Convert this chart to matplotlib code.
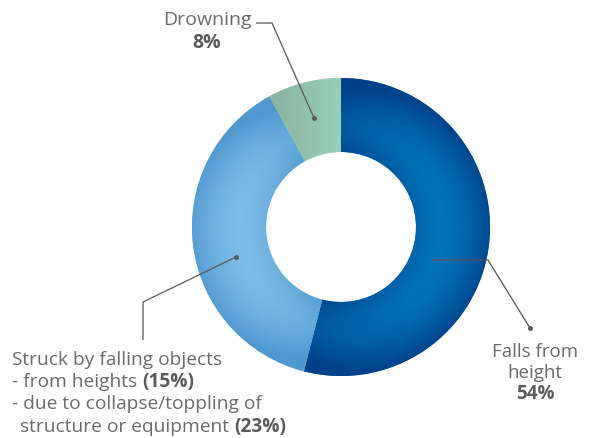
import numpy as np
import matplotlib
matplotlib.use("Agg")
import matplotlib.pyplot as plt

# data
labels = ["Falls from height", "Struck by falling objects", "Drowning"]
shares = [54, 38, 8]
struck_parts = [15, 23]
light_cols = ["#0073b8", "#7dbde7", "#97cfb6"]
dark_cols = ["#00428a", "#4f99d0", "#8cb2a3"]

W, H = 590, 439
cx, cy = 341, H - 228
r_out, r_in = 149, 75
grey = "#6a6a6a"
bold_grey = "#5a5a5a"

plt.rcParams["font.family"] = ["Open Sans", "DejaVu Sans"]

fig = plt.figure(figsize=(W / 100, H / 100), dpi=100)
ax = fig.add_axes([0, 0, 1, 1])

wedges, _ = ax.pie(shares, startangle=90, counterclock=False, center=(cx, cy),
                   radius=r_out, colors=light_cols,
                   wedgeprops=dict(width=r_out - r_in, linewidth=0))
ax.set_xlim(0, W)
ax.set_ylim(0, H)
ax.set_aspect("equal")
ax.axis("off")

# gradient fill clipped to each wedge
n = 500
xs = np.linspace(cx - r_out, cx + r_out, n)
ys = np.linspace(cy - r_out, cy + r_out, n)
X, Y = np.meshgrid(xs, ys)
R = np.hypot(X - cx, Y - cy)
TH = np.degrees(np.arctan2(Y - cy, X - cx))


def hex2rgb(h):
    return np.array([int(h[i:i + 2], 16) / 255 for i in (1, 3, 5)])


for i, w in enumerate(wedges):
    a0, a1 = w.theta1, w.theta2
    mid = (a0 + a1) / 2
    half = (a1 - a0) / 2
    ang = np.abs(((TH - mid + 180) % 360) - 180) / half
    rn = (R - r_in) / (r_out - r_in)
    lo, hi = hex2rgb(light_cols[i]), hex2rgb(dark_cols[i])
    if i == 2:
        s = 1 - np.clip((X - (cx - 70)) / 70, 0, 1)
    else:
        rad = np.abs(rn - 0.35) / 0.65
        s = np.clip(0.85 * rad ** 1.6 + 0.55 * np.clip(ang, 0, 1) ** 2.5, 0, 1)
    img = lo[None, None, :] * (1 - s[..., None]) + hi[None, None, :] * s[..., None]
    im = ax.imshow(img, extent=(xs[0], xs[-1], ys[0], ys[-1]), origin="lower",
                   interpolation="bilinear", zorder=w.get_zorder() + 0.1)
    im.set_clip_path(w)
ax.set_xlim(0, W)
ax.set_ylim(0, H)

# leader lines (pixel coords of the reference, y flipped)
lw = 0.9
lc = "#555555"


def leader(pts):
    px = [p[0] for p in pts]
    py = [H - p[1] for p in pts]
    ax.plot(px, py, color=lc, lw=lw, zorder=5, solid_capstyle="butt")
    ax.plot(px[-1], py[-1], "o", ms=2.5, color=lc, zorder=6)


leader([(256, 24), (272, 24), (314, 119)])
leader([(432, 261), (488, 261), (530, 329)])
leader([(143, 341), (143, 303), (236, 258)])

fs = 13.5
ax.text(207, H - 20, "Drowning", ha="center", va="center", fontsize=14, color=grey)
ax.text(207, H - 43, f"{shares[2]}%", ha="center", va="center", fontsize=14,
        color=bold_grey, fontweight="bold")

ax.text(535, H - 352, "Falls from", ha="center", va="center", fontsize=fs, color=grey)
ax.text(535, H - 373, "height", ha="center", va="center", fontsize=fs, color=grey)
ax.text(535, H - 394, f"{shares[0]}%", ha="center", va="center", fontsize=fs,
        color=bold_grey, fontweight="bold")

renderer = fig.canvas.get_renderer()
fs2 = 13.8


def mixed(x, y, normal, bold):
    t = ax.text(x, H - y, normal, ha="left", va="center", fontsize=fs2, color=grey)
    bb = t.get_window_extent(renderer)
    x2 = ax.transData.inverted().transform((bb.x1, bb.y0))[0]
    ax.text(x2, H - y, bold, ha="left", va="center", fontsize=fs2, color=bold_grey,
            fontweight="bold")


ax.text(12, H - 360, "Struck by falling objects", ha="left", va="center",
        fontsize=fs2, color=grey)
mixed(12, 382, "- from heights ", f"({struck_parts[0]}%)")
ax.text(12, H - 404, "- due to collapse/toppling of", ha="left", va="center",
        fontsize=fs2, color=grey)
mixed(20, 427, "structure or equipment ", f"({struck_parts[1]}%)")

fig.savefig("out.png", dpi=100)
